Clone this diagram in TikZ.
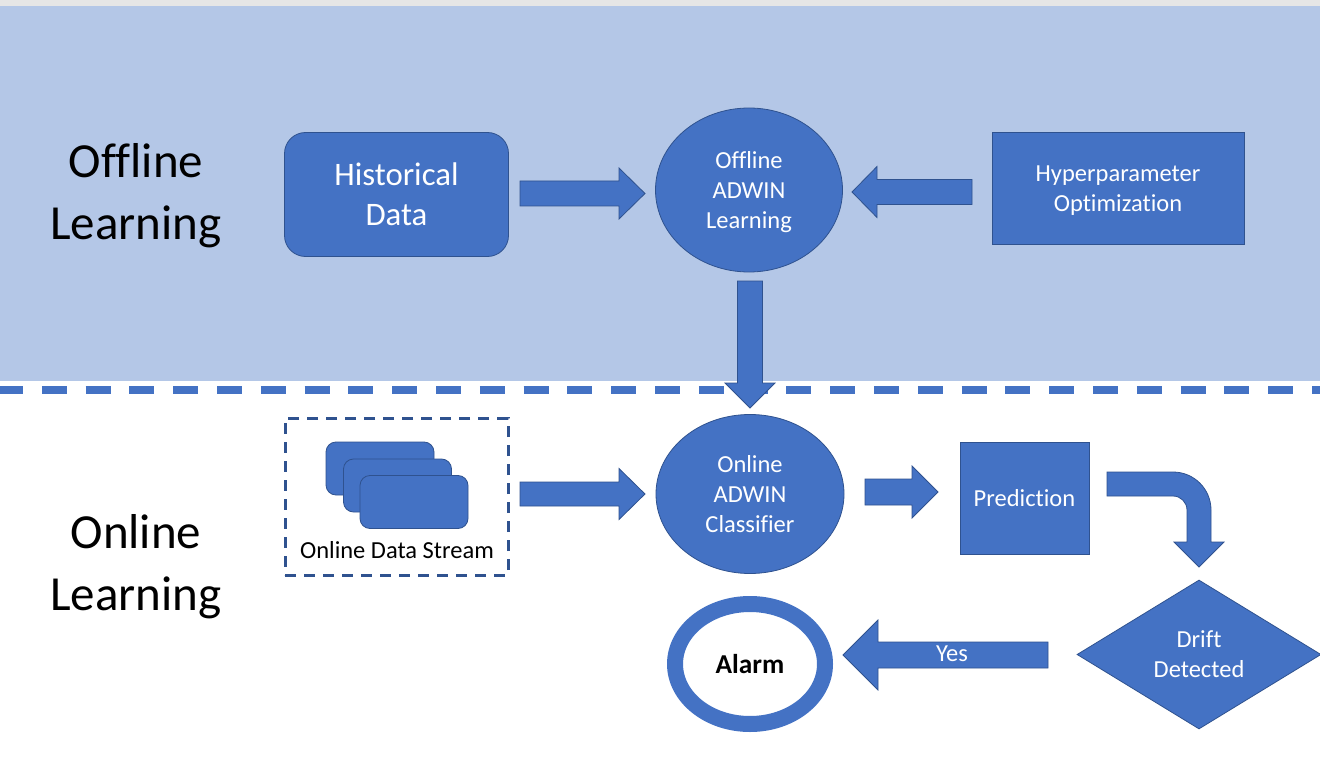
\documentclass[tikz,border=0pt]{standalone}
\usepackage{fontspec}
\setmainfont[Ligatures={NoCommon}]{Carlito}
\usetikzlibrary{shapes.geometric}
\definecolor{bfill}{HTML}{4472C4}
\definecolor{bline}{HTML}{2F528F}
\definecolor{band}{HTML}{B4C7E7}
\definecolor{topgray}{HTML}{E6E6E6}
% horizontal block arrow: tail x, tip x, centre y, shaft half, head half, head length (signed)
\newcommand\blkharrow[6]{%
  \path[blockarrow] (#1,{#3-#4}) -- ({#2-(#6)},{#3-#4}) -- ({#2-(#6)},{#3-#5}) -- (#2,#3)
    -- ({#2-(#6)},{#3+#5}) -- ({#2-(#6)},{#3+#4}) -- (#1,{#3+#4}) -- cycle;}
% vertical block arrow: centre x, tail y, tip y, shaft half, head half, head length
\newcommand\blkvarrow[6]{%
  \path[blockarrow] ({#1-#4},#2) -- ({#1-#4},{#3-(#6)}) -- ({#1-#5},{#3-(#6)}) -- (#1,#3)
    -- ({#1+#5},{#3-(#6)}) -- ({#1+#4},{#3-(#6)}) -- ({#1+#4},#2) -- cycle;}
\tikzset{
  blockarrow/.style={fill=bfill, draw=bline, line width=0.8pt},
  bshape/.style={fill=bfill, draw=bline, line width=0.8pt, inner sep=0pt, text=white, align=center},
  txtm/.style={font=\fontsize{24.5}{30}\selectfont},
  txtl/.style={font=\fontsize{32.8}{40}\selectfont},
  txtxl/.style={font=\fontsize{49}{62}\selectfont, align=center, text=black},
}
\begin{document}
\begin{tikzpicture}[x=1pt, y=-1pt]
\useasboundingbox (0,0) rectangle (1320,762);
\fill[white] (0,0) rectangle (1320,762);
\fill[topgray] (0,0) rectangle (1320,6);
\fill[band] (0,6) rectangle (1320,381);
\draw[bfill, line width=8pt, dash pattern=on 25pt off 18.8pt, dash phase=2pt] (0,390) -- (1320,390);

% titles
\node[txtxl] (offtitle) at (136,196) {Offline\\Learning};
\node[txtxl] (ontitle) at (136,566.5) {Online\\Learning};

% offline row
\node[bshape, txtl, rounded corners=21pt, minimum width=224pt, minimum height=124pt] (hist) at (396.5,194.5) {Historical\\Data};
\node[bshape, txtm, ellipse, minimum width=187pt, minimum height=164pt] (offl) at (749,190) {};
\node[txtm, text=white, align=center] (offltxt) at (749,192) {Offline\\ADWIN\\Learning};
\node[bshape, txtm, minimum width=252pt, minimum height=112pt] (hyper) at (1118,188) {};
\node[txtm, text=white, align=center] (hypertxt) at (1118,191) {Hyperparameter\\Optimization};
\blkharrow{520}{645}{193.5}{12.5}{25.5}{26}
\blkharrow{972}{852}{192}{12.5}{25.5}{-25}
\blkvarrow{750}{281}{408}{12.5}{25}{25}

% online row
\node[draw=bline, line width=3pt, dash pattern=on 11pt off 8pt, minimum width=223pt, minimum height=157pt, inner sep=0pt] (streambox) at (396.5,496.5) {};
\node[bshape, rounded corners=10pt, minimum width=108pt, minimum height=53pt] (s1) at (380,468.5) {};
\node[bshape, rounded corners=10pt, minimum width=108pt, minimum height=53pt] (s2) at (397.5,485.5) {};
\node[bshape, rounded corners=10pt, minimum width=108pt, minimum height=53pt] (s3) at (414,502) {};
\node[txtm, text=black] (streamlbl) at (397,550) {Online Data Stream};

\node[bshape, txtm, ellipse, minimum width=188pt, minimum height=159pt] (onl) at (750,494) {Online\\ADWIN\\Classifier};
\node[bshape, txtm, minimum width=129pt, minimum height=112pt] (pred) at (1024.5,498) {Prediction};
\blkharrow{520}{645}{494}{12}{25.5}{26}
\blkharrow{865}{938}{492}{13}{26}{26}

% bent arrow
\path[blockarrow] (1107,472) -- (1173,472) .. controls (1194,472) and (1211,489) .. (1211,510)
  -- (1211,542) -- (1224,542) -- (1199,567) -- (1174,542) -- (1187,542) -- (1187,510)
  .. controls (1187,502.3) and (1180.7,496) .. (1173,496) -- (1107,496) -- cycle;

\node[bshape, txtm, diamond, minimum width=244pt, minimum height=149pt] (drift) at (1199,654.5) {Drift\\Detected};

% yes arrow
\blkharrow{1048}{843}{655}{13}{35}{-35}
\node[txtm, text=white] (yes) at (952,654) {Yes};

% alarm
\node[ellipse, draw=bfill, line width=16pt, fill=white, minimum width=150pt, minimum height=120pt, inner sep=0pt, font=\bfseries\fontsize{27.3}{33}\selectfont] (alarm) at (750,664) {Alarm};
\end{tikzpicture}
\end{document}
